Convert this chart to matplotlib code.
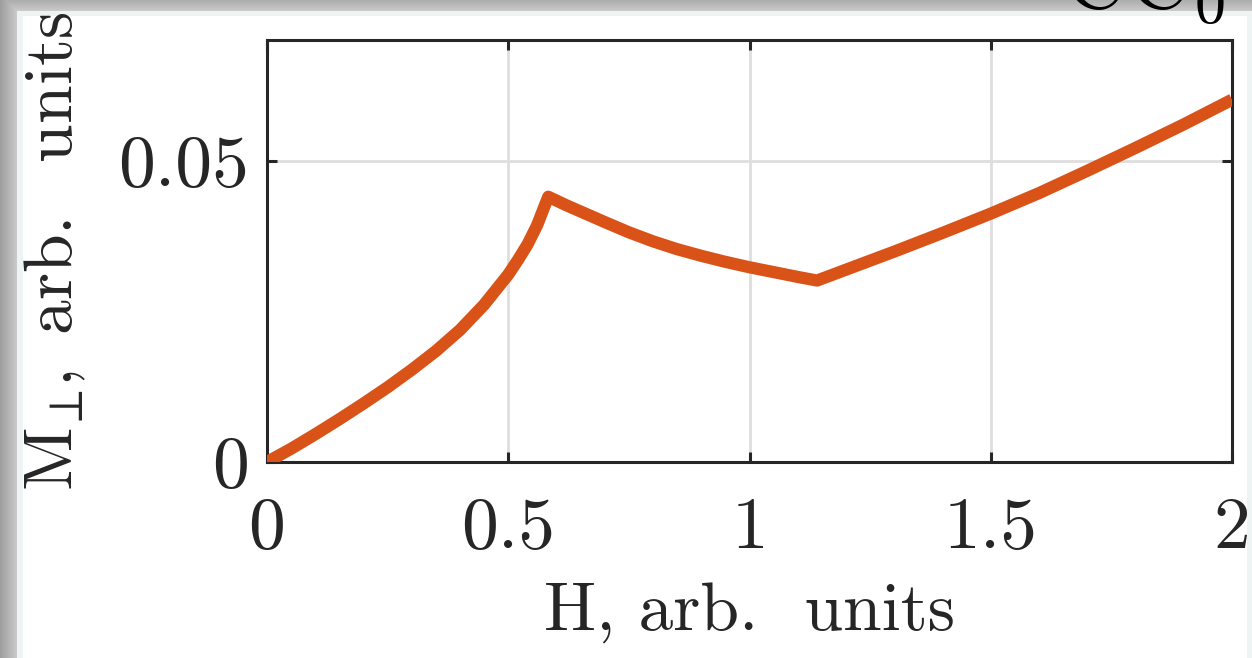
import numpy as np
import matplotlib
matplotlib.use("Agg")
import matplotlib.pyplot as plt

plt.rcParams['font.family'] = 'serif'
plt.rcParams['font.serif'] = ['cmr10']
plt.rcParams['mathtext.fontset'] = 'cm'
plt.rcParams['axes.formatter.use_mathtext'] = True

# ---- data ----
H_rise = [0.0, 0.05, 0.1, 0.15, 0.2, 0.25, 0.3, 0.35, 0.4, 0.45, 0.5, 0.52, 0.54, 0.56, 0.575, 0.583]
M_rise = [0.0, 0.0022, 0.0046, 0.0071, 0.0097, 0.0124, 0.0153, 0.0184, 0.0219, 0.0261,
          0.0311, 0.0335, 0.0361, 0.0393, 0.0424, 0.0440]
H_fall = [0.62, 0.66, 0.7, 0.75, 0.8, 0.85, 0.9, 0.95, 1.0, 1.05, 1.1, 1.14]
M_fall = [0.0426, 0.0412, 0.0398, 0.0381, 0.0366, 0.0353, 0.0342, 0.0332, 0.0323,
          0.0315, 0.0307, 0.0301]
H_grow = [1.2, 1.3, 1.4, 1.5, 1.6, 1.7, 1.8, 1.9, 2.0]
M_grow = [0.0319, 0.0349, 0.0380, 0.0412, 0.0446, 0.0483, 0.0521, 0.0560, 0.0601]

x_ticks = [0, 0.5, 1, 1.5, 2]
x_ticklabels = ['0', '0.5', '1', '1.5', '2']
y_ticks = [0, 0.05]
y_ticklabels = ['0', '0.05']
x_label = 'H, arb.  units'
y_label = r'$\mathrm{M}_{\!\perp}\!\mathrm{,\ arb.\ \ units}$'
corner_text = r'CC$_0$'

H = np.array(H_rise + H_fall + H_grow)
M = np.array(M_rise + M_fall + M_grow)

W, Hpx = 1252, 658
fig = plt.figure(figsize=(W / 100, Hpx / 100), dpi=100)

# screenshot-style background (shadow at top/left, light border)
bg = np.ones((Hpx, W, 3))
panel = np.array([0.935, 0.953, 0.953])
bg[:16, :, :] = panel
bg[:, :23, :] = panel
bg[:, 1247:, :] = panel
top_shadow = 11
for j in range(top_shadow):
    bg[j, :, :] = 0.68 + 0.12 * j / top_shadow
left_shadow = 17
for i in range(left_shadow):
    bg[top_shadow:, i, :] = 0.62 + 0.18 * i / left_shadow
for j in range(top_shadow):
    for i in range(left_shadow):
        bg[j, i, :] = min(bg[j, i, 0], 0.62 + 0.18 * i / left_shadow)
axbg = fig.add_axes([0, 0, 1, 1], zorder=-10)
axbg.imshow(bg, aspect='auto', interpolation='nearest')
axbg.axis('off')

ax = fig.add_axes([267 / W, 1 - 462 / Hpx, (1232 - 267) / W, (462 - 40) / Hpx])
ax.plot(H, M, color='#D95319', lw=8.8, solid_joinstyle='round', solid_capstyle='butt', zorder=3)
ax.set_xlim(0, 2)
ax.set_ylim(0, 0.07)
ax.set_xticks(x_ticks)
ax.set_xticklabels(x_ticklabels)
ax.set_yticks(y_ticks)
ax.set_yticklabels(y_ticklabels)
ax.grid(True, color='#dedede', lw=2.0)
ax.set_axisbelow(True)
for s in ax.spines.values():
    s.set_color('#262626')
    s.set_linewidth(2.2)
ax.tick_params(direction='in', length=7, width=2.2, colors='#262626',
               top=True, right=True, labelsize=53)
ax.tick_params(axis='x', pad=25)
ax.tick_params(axis='y', pad=13)
ax.set_xlabel(x_label, fontsize=50, color='#262626', labelpad=15)
ax.set_ylabel(y_label, fontsize=50, color='#262626', labelpad=22)

fig.text(1062 / W, 1 - 8 / Hpx, corner_text, fontsize=64, color='black',
         ha='left', va='baseline', zorder=20)

fig.savefig('out.png', dpi=100)
